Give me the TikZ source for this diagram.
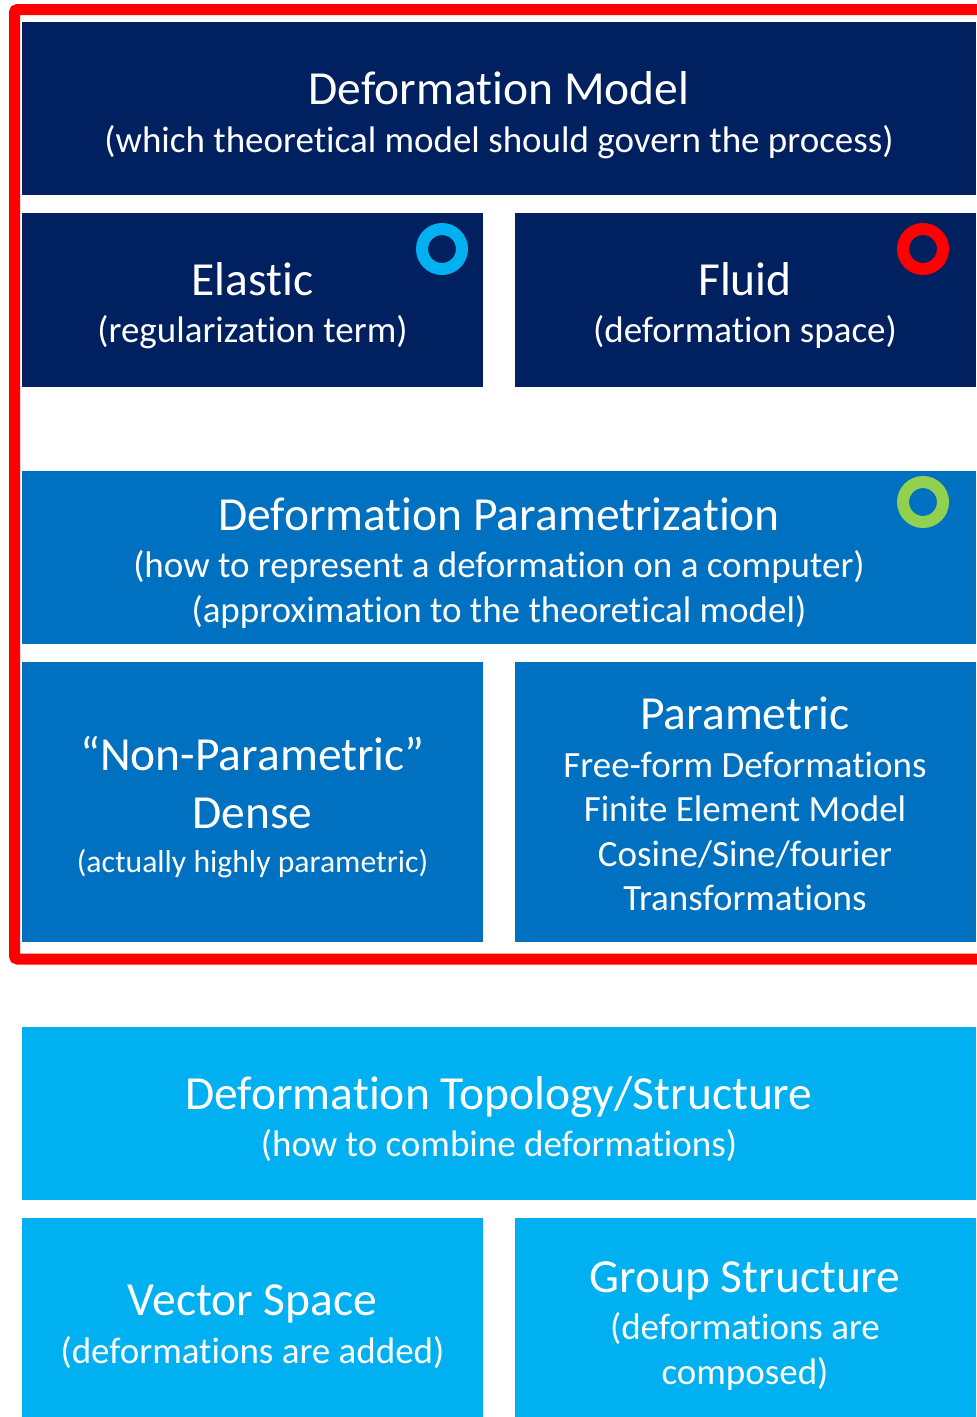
\documentclass[tikz,border=0pt]{standalone}
\usepackage{fontspec}
\setmainfont{Carlito}[Ligatures=NoCommon]
\usepackage{tikz}
\usetikzlibrary{positioning}

\newcommand{\ttl}{\fontsize{47.5}{57}\selectfont}
\newcommand{\subf}{\fontsize{37}{44.5}\selectfont}
\newcommand{\smf}{\fontsize{31.7}{38}\selectfont}
\newcommand{\padtop}[1]{\rule{0pt}{#1pt}}

\begin{document}
\begin{tikzpicture}[
    x=1pt, y=-1pt,
    tile/.style={rectangle, inner sep=0pt, align=center, text=white,
                 font=\subf},
    wide/.style={tile, minimum width=954pt, minimum height=173pt},
    half/.style={tile, minimum width=461pt},
    ring/.style={circle, draw=#1, line width=12pt, minimum size=40pt,
                 inner sep=0pt},
    frame/.style={draw=cframe, line width=11pt, rounded corners=3pt},
]
% ---- colours by level ----
\definecolor{cmodel}{HTML}{002060}   % model
\definecolor{cparam}{HTML}{0070C0}   % parametrization
\definecolor{ctopo}{HTML}{00B0F0}    % topology
\definecolor{cframe}{HTML}{FF0000}
\definecolor{cring}{HTML}{00B0F0}
\definecolor{cgreen}{HTML}{92D050}

\clip (0,0) rectangle (977,1417);

% ---- model ----
\node[wide, fill=cmodel] (model) at (499,108.5)
    {{\ttl\padtop{46}Deformation Model}\\[3pt](which theoretical model should govern the process)};
\node[half, fill=cmodel, minimum height=174pt] (elastic) at (252.5,300)
    {{\ttl\padtop{44}Elastic}\\[3pt](regularization term)};
\node[half, fill=cmodel, minimum height=174pt] (fluid) at (745,300)
    {{\ttl\padtop{44}Fluid}\\[3pt](deformation space)};
\node[ring=cring] (elastic-ring) at (442,249) {};
\node[ring=cframe] (fluid-ring) at (923,249) {};

% ---- parametrization ----
\node[wide, fill=cparam] (param) at (499,557.5)
    {{\ttl\padtop{43}Deformation Parametrization}\\[3pt](how to represent a deformation on a computer)\\(approximation to the theoretical model)};
\node[ring=cgreen] (param-ring) at (923,502) {};
\node[half, fill=cparam, minimum height=280pt] (nonpar) at (252.5,802)
    {{\ttl\padtop{45}“Non-Parametric”}\\[13pt]{\ttl Dense}\\[0pt]{\smf (actually highly parametric)}};
\node[half, fill=cparam, minimum height=280pt] (parametric) at (745,802)
    {{\ttl\padtop{37}Parametric}\\[3pt]Free-form Deformations\\Finite Element Model\\Cosine/Sine/fourier\\Transformations};

% ---- frame round model + parametrization ----
\draw[frame] (14.5,9.5) rectangle (990,959);

% ---- topology ----
\node[wide, fill=ctopo] (topo) at (499,1113.5)
    {{\ttl\padtop{44}Deformation Topology/Structure}\\[3pt](how to combine deformations)};
\node[half, fill=ctopo, minimum height=212pt] (vector) at (252.5,1324)
    {{\ttl\padtop{36}Vector Space}\\[3pt](deformations are added)};
\node[half, fill=ctopo, minimum height=212pt] (group) at (745,1324)
    {{\ttl\padtop{34}Group Structure}\\[3pt](deformations are\\composed)};
\end{tikzpicture}
\end{document}
